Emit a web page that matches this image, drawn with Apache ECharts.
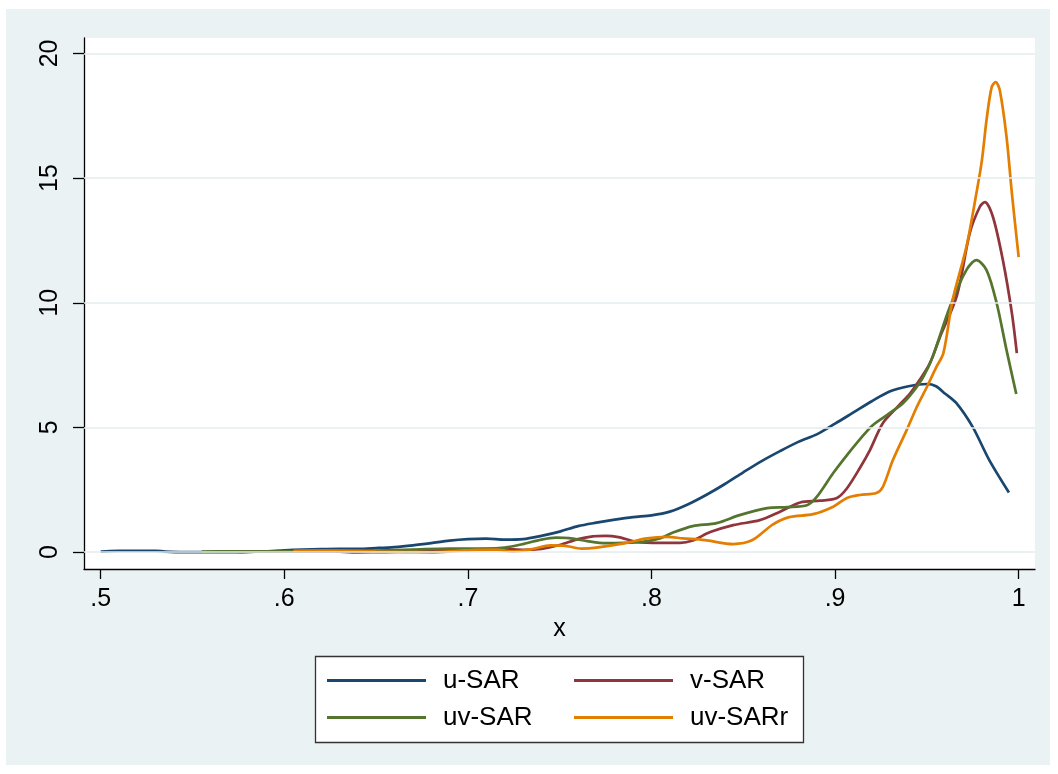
<!DOCTYPE html>
<html>
<head>
<meta charset="utf-8">
<script src="https://cdn.jsdelivr.net/npm/echarts@6/dist/echarts.min.js"></script>
<style>
html,body{margin:0;padding:0;background:#fff;}
#chart{width:1058px;height:774px;}
</style>
</head>
<body>
<div id="chart"></div>
<script>
// ---- Data ----
var seriesNames = ['u-SAR', 'v-SAR', 'uv-SAR', 'uv-SARr'];
var xTickValues = [0.5, 0.6, 0.7, 0.8, 0.9, 1.0];
var yTickValues = [0, 5, 10, 15, 20];
var xTitle = 'x';

var uSarX = [0.500,0.505,0.510,0.520,0.530,0.535,0.545,0.560,0.575,0.590,0.600,0.610,0.620,0.630,0.640,0.650,0.660,0.670,0.680,0.690,0.700,0.710,0.720,0.730,0.740,0.750,0.760,0.770,0.780,0.790,0.800,0.810,0.820,0.830,0.840,0.850,0.860,0.870,0.880,0.890,0.900,0.910,0.920,0.930,0.940,0.950,0.955,0.960,0.966,0.975,0.984,0.9947];
var uSarY = [0.02,0.04,0.05,0.05,0.05,0.02,0.00,0.00,0.00,0.03,0.07,0.10,0.12,0.13,0.13,0.16,0.20,0.27,0.36,0.46,0.52,0.54,0.50,0.52,0.65,0.82,1.04,1.18,1.30,1.40,1.47,1.62,1.92,2.30,2.73,3.20,3.65,4.05,4.42,4.72,5.15,5.60,6.05,6.45,6.65,6.74,6.65,6.35,5.98,5.01,3.69,2.39];

var vSarX = [0.575,0.590,0.610,0.625,0.640,0.655,0.670,0.690,0.700,0.710,0.720,0.730,0.740,0.750,0.760,0.768,0.775,0.782,0.792,0.8045,0.8156,0.822,0.832,0.8445,0.859,0.870,0.881,0.892,0.901,0.9065,0.9135,0.919,0.926,0.934,0.941,0.946,0.9517,0.957,0.9664,0.9734,0.9788,0.9816,0.986,0.9914,0.9963,0.999];
var vSarY = [0.01,0.02,0.03,0.03,-0.01,0.00,0.03,0.07,0.10,0.12,0.12,0.09,0.13,0.28,0.52,0.63,0.65,0.60,0.41,0.37,0.37,0.45,0.80,1.08,1.28,1.62,1.99,2.06,2.17,2.56,3.37,4.09,5.17,5.82,6.38,6.90,7.58,8.60,10.30,12.80,13.84,14.04,13.44,11.71,9.59,7.98];

var uvSarX = [0.555,0.570,0.590,0.610,0.630,0.650,0.670,0.690,0.700,0.710,0.720,0.730,0.740,0.748,0.755,0.765,0.775,0.785,0.795,0.805,0.8117,0.8225,0.8355,0.848,0.863,0.874,0.885,0.890,0.899,0.9065,0.9135,0.9205,0.9297,0.937,0.9424,0.948,0.953,0.9625,0.9715,0.977,0.9825,0.988,0.9934,0.9987];
var uvSarY = [0.02,0.03,0.03,0.04,0.05,0.06,0.10,0.14,0.14,0.14,0.18,0.32,0.50,0.58,0.56,0.44,0.36,0.37,0.41,0.56,0.78,1.04,1.16,1.48,1.76,1.80,1.89,2.21,3.17,3.89,4.52,5.09,5.57,5.97,6.42,7.02,7.80,9.83,11.31,11.71,11.31,9.99,8.10,6.34];

var uvSarrX = [0.605,0.620,0.635,0.650,0.665,0.680,0.695,0.705,0.715,0.725,0.735,0.745,0.752,0.762,0.770,0.7865,0.7975,0.8085,0.817,0.829,0.8445,0.855,0.866,0.875,0.888,0.899,0.9065,0.9135,0.9225,0.926,0.9315,0.939,0.9445,0.950,0.955,0.959,0.964,0.9715,0.977,0.980,0.9825,0.9853,0.9875,0.9897,0.9934,0.9963,1.000];
var uvSarrY = [0.05,0.06,0.05,0.02,0.00,-0.01,0.05,0.09,0.10,0.02,0.12,0.27,0.26,0.14,0.18,0.37,0.55,0.61,0.55,0.48,0.32,0.48,1.10,1.40,1.52,1.82,2.17,2.29,2.37,2.61,3.69,4.89,5.82,6.62,7.40,7.98,10.10,12.23,14.40,15.72,17.33,18.65,18.85,18.53,16.65,14.40,11.83];

var seriesColors = ['#1a476f', '#90353b', '#55752f', '#e37e00'];

// ---- Build chart ----
function pairs(xs, ys) { return xs.map(function (x, i) { return [x, ys[i]]; }); }
var seriesXY = [pairs(uSarX, uSarY), pairs(vSarX, vSarY), pairs(uvSarX, uvSarY), pairs(uvSarrX, uvSarrY)];

var FONT = '"Liberation Sans", Arial, sans-serif';
var chart = echarts.init(document.getElementById('chart'), null, { renderer: 'canvas' });

var series = [{
  name: '_grid',
  type: 'line',
  data: [],
  z: 1,
  silent: true,
  markLine: {
    silent: true,
    symbol: 'none',
    label: { show: false },
    lineStyle: { color: '#e5edef', width: 1.6, type: 'solid' },
    animation: false,
    data: yTickValues.map(function (v) { return { yAxis: v }; })
  }
}];
seriesNames.forEach(function (name, i) {
  series.push({
    name: name,
    type: 'line',
    data: seriesXY[i],
    showSymbol: false,
    symbol: 'none',
    smooth: 0.3,
    z: 3,
    lineStyle: { color: seriesColors[i], width: 2.7 },
    itemStyle: { color: seriesColors[i] }
  });
});

chart.setOption({
  animation: false,
  backgroundColor: '#ffffff',
  graphic: [
    { type: 'rect', z: -1, silent: true, shape: { x: 6, y: 9, width: 1044, height: 756 }, style: { fill: '#eaf2f3' } },
    { type: 'rect', z: 1, silent: true, shape: { x: 315.5, y: 656.5, width: 488, height: 86 }, style: { fill: '#ffffff', stroke: '#333333', lineWidth: 1.3 } }
  ],
  grid: {
    left: 84, top: 38, width: 951, height: 531,
    show: true, backgroundColor: '#ffffff', borderWidth: 0
  },
  xAxis: {
    type: 'value',
    min: 0.4909, max: 1.0089,
    name: xTitle,
    nameLocation: 'middle',
    nameGap: 44,
    nameTextStyle: { fontFamily: FONT, fontSize: 25, color: '#000' },
    axisLine: { show: true, onZero: false, lineStyle: { color: '#000', width: 1.3 } },
    axisTick: { show: true, customValues: xTickValues, length: 10, lineStyle: { color: '#000', width: 1.3 } },
    axisLabel: {
      customValues: xTickValues, margin: 18,
      fontFamily: FONT, fontSize: 25, color: '#000',
      formatter: function (v) { return v >= 0.999 ? '1' : '.' + Math.round(v * 10); }
    },
    splitLine: { show: false }
  },
  yAxis: {
    type: 'value',
    min: -0.68, max: 20.62,
    axisLine: { show: true, lineStyle: { color: '#000', width: 1.3 } },
    axisTick: { show: true, customValues: yTickValues, length: 11, lineStyle: { color: '#000', width: 1.3 } },
    axisLabel: {
      customValues: yTickValues, margin: 21, rotate: 90,
      fontFamily: FONT, fontSize: 25, color: '#000'
    },
    splitLine: { show: false }
  },
  legend: {
    data: seriesNames,
    left: 327, top: 667, width: 500,
    orient: 'horizontal',
    z: 5,
    padding: 0,
    icon: 'rect',
    itemWidth: 99, itemHeight: 3,
    itemGap: 10,
    textStyle: { fontFamily: FONT, fontSize: 26, color: '#000', width: 121, lineHeight: 27, padding: [0, 0, 0, 12] }
  },
  series: series
});
</script>
</body>
</html>
